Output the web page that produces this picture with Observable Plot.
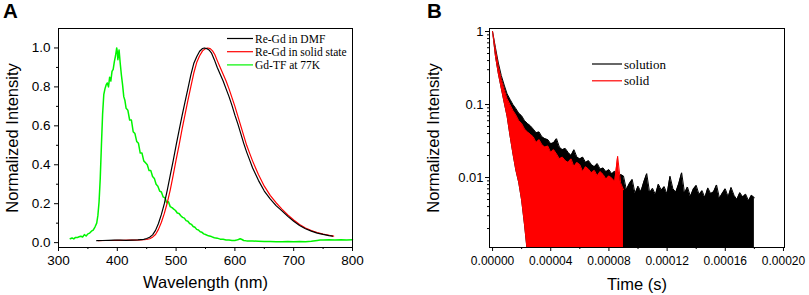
<!DOCTYPE html>
<html><head><meta charset="utf-8">
<script src="https://cdn.jsdelivr.net/npm/d3@7"></script>
<script src="https://cdn.jsdelivr.net/npm/@observablehq/plot@0.6"></script>
<style>
body{margin:0;background:#fff;}
#wrap{position:relative;width:809px;height:295px;overflow:hidden;background:#fff;}
#wrap svg{position:absolute;top:0;}
</style></head><body><div id="wrap"></div>
<script>
// ---------- Panel A: emission spectra ----------
const wavelengthDMF = [365,375,385,395,405,415,425,435,445,450,455,460,465,470,475,480,485,490,495,500,505,510,515,520,525,530,535,540,545,548,552,556,560,565,570,575,580,585,590,595,600,605,610,615,620,625,630,640,650,660,670,680,690,700,710,720,730,740,750,760,766];
const intensityDMF = [0.010,0.011,0.012,0.013,0.013,0.012,0.013,0.014,0.017,0.021,0.028,0.040,0.063,0.098,0.145,0.20,0.27,0.345,0.42,0.50,0.575,0.65,0.72,0.79,0.86,0.92,0.955,0.983,0.997,1.0,0.997,0.99,0.975,0.94,0.90,0.865,0.83,0.79,0.75,0.705,0.655,0.61,0.56,0.51,0.465,0.425,0.385,0.32,0.265,0.225,0.19,0.163,0.135,0.11,0.088,0.071,0.059,0.049,0.042,0.036,0.033];

const wavelengthSolid = [368,380,390,400,410,420,430,440,450,455,460,465,470,475,480,485,490,495,500,505,510,515,520,525,530,535,540,545,550,554,558,562,566,570,575,580,585,590,595,600,605,610,615,620,625,630,635,640,650,660,670,680,690,700,710,720,730,740,750,760,768];
const intensitySolid = [0.010,0.011,0.011,0.012,0.012,0.013,0.013,0.014,0.016,0.020,0.028,0.042,0.068,0.105,0.15,0.205,0.27,0.345,0.425,0.50,0.58,0.655,0.73,0.80,0.87,0.925,0.96,0.985,0.997,1.0,0.997,0.985,0.965,0.935,0.90,0.865,0.83,0.79,0.745,0.70,0.65,0.60,0.55,0.50,0.46,0.42,0.385,0.35,0.29,0.243,0.205,0.172,0.142,0.116,0.093,0.075,0.062,0.052,0.044,0.038,0.033];

const wavelengthGdTF = [320,323,326,329,332,335,338,341,344,347,350,353,356,359,362,365,367,369,371,373,375,377,379,381,383,385,387,389,391,393,395,397,399,400,401,403,405,407,409,411,413,415,418,421,424,427,430,433,436,439,442,445,448,451,454,457,460,463,466,469,472,475,478,481,484,487,490,493,496,499,502,505,508,511,514,517,520,523,526,529,532,535,538,541,544,547,550,555,560,565,570,575,580,585,590,595,600,603,606,609,612,615,620,630,640,650,660,670,680,690,700,710,720,730,740,745,750,760,770,780,790,800];
const intensityGdTF = [0.020,0.024,0.019,0.027,0.026,0.030,0.033,0.029,0.041,0.034,0.045,0.049,0.059,0.064,0.080,0.10,0.14,0.21,0.33,0.50,0.66,0.76,0.79,0.81,0.82,0.80,0.85,0.83,0.88,0.89,0.93,0.96,1.00,0.98,0.94,0.99,0.92,0.86,0.81,0.75,0.73,0.69,0.68,0.63,0.63,0.57,0.56,0.52,0.51,0.46,0.46,0.42,0.41,0.40,0.37,0.37,0.34,0.33,0.30,0.29,0.265,0.26,0.235,0.23,0.205,0.21,0.185,0.18,0.172,0.165,0.152,0.15,0.138,0.13,0.126,0.113,0.11,0.098,0.094,0.083,0.079,0.068,0.065,0.056,0.053,0.045,0.042,0.035,0.031,0.025,0.023,0.018,0.017,0.014,0.013,0.011,0.011,0.013,0.016,0.020,0.016,0.011,0.009,0.008,0.007,0.006,0.006,0.005,0.005,0.006,0.005,0.006,0.005,0.007,0.011,0.013,0.014,0.015,0.014,0.015,0.014,0.015];

const seriesNamesA = ["Re-Gd in DMF", "Re-Gd in solid state", "Gd-TF at 77K"];
const xTicksA = [300, 400, 500, 600, 700, 800];
const xMinorA = [350, 450, 550, 650, 750];
const yTicksA = [0, 0.2, 0.4, 0.6, 0.8, 1.0];
const yMinorA = [0.1, 0.3, 0.5, 0.7, 0.9];
const xLabelA = "Wavelength (nm)";
const yLabel = "Normalized Intensity";

// ---------- Panel B: decay curves (time in microseconds) ----------
const solutionTimeUs = [0,2,4,6,8,10,12,14,16,18,20,22,24,26,28,30,32,34,36,38,40,42,44,46,48,50,52,54,56,58,60,62,64,66,68,70,72,74,76,78,80,82,84,86,88,90,92,94,96,98,100,102,104,106,108,110,112,114,116,118,120,122,124,126,128,130,132,134,136,138,140,142,144,146,148,150,152,154,156,158,160,162,164,166,168,170,172,174,176,178,180];
const solutionTop = [1.0,0.60,0.37,0.25,0.185,0.14,0.118,0.10,0.088,0.076,0.070,
  0.060,0.055,0.051,0.046,0.041,0.042,0.036,0.034,0.033,0.029,0.030,0.034,0.026,0.024,0.025,0.022,0.020,0.024,0.019,0.018,0.019,0.016,0.017,0.015,0.014,0.0155,0.013,0.0135,0.012,0.0128,0.0112,0.0122,0.0098,0.0110,
  0.0105,0.0068,0.0082,0.0094,0.0060,0.0076,0.0064,0.0087,0.0113,0.0062,0.0071,0.0058,0.0081,0.0067,0.0075,0.0059,0.0104,0.0070,0.0063,0.0082,0.0116,0.0061,0.0074,0.0055,0.0069,0.0078,0.0058,0.0066,0.0053,0.0072,0.0060,0.0064,0.0079,0.0052,0.0061,0.0070,0.0054,0.0073,0.0057,0.0050,0.0062,0.0054,0.0059,0.0048,0.0057,0.0053];
const solutionLowEdge = [1.0,0.45,0.26,0.165,0.105,0.068,0.037,0.021,0.0125,0.0084,0.0048,0.0022];

const solidTimeUs = [0,2,4,6,8,10,12,14,16,18,20,22,24,26,28,30,32,34,36,38,40,42,44,46,48,50,52,54,56,58,60,62,64,66,68,70,72,74,76,78,80,82,84,86,88,90];
const solidTop = [1.0,0.56,0.33,0.22,0.16,0.12,0.10,0.083,0.072,0.060,0.055,
  0.046,0.042,0.039,0.036,0.030,0.033,0.028,0.026,0.027,0.022,0.024,0.021,0.018,0.019,0.017,0.016,0.018,0.014,0.016,0.015,0.012,0.014,0.013,0.0115,0.0125,0.0105,0.012,0.011,0.0095,0.0105,0.0098,0.0088,0.0195,0.0085,0.0068];
const solidLowEdge = [1.0,0.45,0.26,0.165,0.105,0.068,0.037,0.021,0.0125,0.0084,0.0048,0.0022];
const noiseFloor = 0.0009; // signal at/below zero: clipped at the axis bottom

const seriesNamesB = ["solution", "solid"];
const xTicksB = [0, 0.00004, 0.00008, 0.00012, 0.00016, 0.0002];
const xMinorB = [0.00002, 0.00006, 0.0001, 0.00014, 0.00018];
const yTicksB = [1, 0.1, 0.01];
const yMinorB = [0.9,0.8,0.7,0.6,0.5,0.4,0.3,0.2,0.09,0.08,0.07,0.06,0.05,0.04,0.03,0.02,0.009,0.008,0.007,0.006,0.005,0.004,0.003,0.002];
const xLabelB = "Time (s)";

// ---------- build ----------
const sans = "'Liberation Sans', Arial, sans-serif";
const serif = "'Liberation Serif', 'Times New Roman', serif";
const greenColor = "#00f400";

const dmf = wavelengthDMF.map((w, i) => ({w, v: intensityDMF[i]}));
const solidSpec = wavelengthSolid.map((w, i) => ({w, v: intensitySolid[i]}));
const gdtf = wavelengthGdTF.map((w, i) => ({w, v: intensityGdTF[i]}));

const chartA = Plot.plot({
  width: 400, height: 295,
  marginLeft: 58, marginRight: 48, marginTop: 28, marginBottom: 48,
  style: {fontFamily: sans, fontSize: "13.5px", color: "#000", background: "transparent", overflow: "visible"},
  x: {domain: [300, 800]},
  y: {domain: [-0.025, 1.1]},
  marks: [
    Plot.line(gdtf, {x: "w", y: "v", stroke: greenColor, strokeWidth: 1.5}),
    Plot.line(solidSpec, {x: "w", y: "v", stroke: "#f00", strokeWidth: 1.2}),
    Plot.line(dmf, {x: "w", y: "v", stroke: "#000", strokeWidth: 1.2}),
    Plot.frame({stroke: "#000", strokeWidth: 1}),
    Plot.axisX({ticks: xTicksA, tickSize: 4, tickPadding: 4, tickFormat: d => String(d), label: null}),
    Plot.axisX({ticks: xMinorA, tickSize: 2, tickFormat: () => "", label: null}),
    Plot.axisY({ticks: yTicksA, tickSize: 4, tickPadding: 4, tickFormat: d3.format(".1f"), label: null}),
    Plot.axisY({ticks: yMinorA, tickSize: 2, tickFormat: () => "", label: null}),
    Plot.text([xLabelA], {text: d => d, frameAnchor: "bottom", lineAnchor: "middle", dy: 35, fontSize: 16.5}),
    Plot.text([yLabel], {text: d => d, frameAnchor: "left", textAnchor: "middle", lineAnchor: "middle", dx: -46, rotate: -90, fontSize: 16.5})
  ]
});

const solution = solutionTimeUs.map((t, i) => ({t: t * 1e-6, top: solutionTop[i], low: i < solutionLowEdge.length ? solutionLowEdge[i] : noiseFloor}));
const solidDecay = solidTimeUs.map((t, i) => ({t: t * 1e-6, top: solidTop[i], low: i < solidLowEdge.length ? solidLowEdge[i] : noiseFloor}));

const chartB = Plot.plot({
  width: 409, height: 295,
  marginLeft: 89, marginRight: 25, marginTop: 28, marginBottom: 48,
  style: {fontFamily: sans, fontSize: "13px", color: "#000", background: "transparent", overflow: "visible"},
  x: {domain: [-0.0000021, 0.0002007]},
  y: {type: "log", domain: [0.0011, 1.1]},
  marks: [
    Plot.areaY(solution, {x: "t", y1: "low", y2: "top", fill: "#000", clip: true}),
    Plot.line(solution, {x: "t", y: "top", stroke: "#000", strokeWidth: 1, clip: true}),
    Plot.areaY(solidDecay, {x: "t", y1: "low", y2: "top", fill: "#f00", clip: true}),
    Plot.line(solidDecay, {x: "t", y: "top", stroke: "#f00", strokeWidth: 1, clip: true}),
    Plot.frame({stroke: "#000", strokeWidth: 1}),
    Plot.axisX({ticks: xTicksB, tickSize: 4, tickPadding: 5, tickFormat: d3.format(".5f"), fontSize: 12, label: null}),
    Plot.axisX({ticks: xMinorB, tickSize: 2, tickFormat: () => "", label: null}),
    Plot.axisY({ticks: yTicksB, tickSize: 4, tickPadding: 2, tickFormat: d => String(d), label: null}),
    Plot.axisY({ticks: yMinorB, tickSize: 2, tickFormat: () => "", label: null}),
    Plot.text([xLabelB], {text: d => d, frameAnchor: "bottom", lineAnchor: "middle", dy: 37, fontSize: 16.5}),
    Plot.text([yLabel], {text: d => d, frameAnchor: "left", textAnchor: "middle", lineAnchor: "middle", dx: -56, rotate: -90, fontSize: 16.5})
  ]
});

const wrap = document.getElementById("wrap");
chartA.style.left = "0px";
chartB.style.left = "400px";
wrap.appendChild(chartA);
wrap.appendChild(chartB);

// legends and panel letters
const legendColorsA = ["#000", "#f00", greenColor];
const gA = d3.select(chartA).append("g").attr("font-family", serif).attr("font-size", 11.5).attr("fill", "#000").attr("text-anchor", "start");
seriesNamesA.forEach((name, i) => {
  const y = 38.5 + i * 13.2;
  gA.append("line").attr("x1", 227).attr("x2", 253).attr("y1", y).attr("y2", y).attr("stroke", legendColorsA[i]).attr("stroke-width", 1.2);
  gA.append("text").attr("x", 255).attr("y", y).attr("dy", "0.35em").text(name);
});
const legendColorsB = ["#000", "#f00"];
const gB = d3.select(chartB).append("g").attr("font-family", serif).attr("font-size", 13).attr("fill", "#000").attr("text-anchor", "start");
seriesNamesB.forEach((name, i) => {
  const y = 64 + i * 16.8;
  gB.append("line").attr("x1", 192).attr("x2", 222).attr("y1", y).attr("y2", y).attr("stroke", legendColorsB[i]).attr("stroke-width", 1.2);
  gB.append("text").attr("x", 224).attr("y", y).attr("dy", "0.35em").text(name);
});
d3.select(chartA).append("text").attr("x", 3).attr("y", 18).attr("text-anchor", "start").attr("font-family", sans).attr("font-weight", "bold").attr("font-size", 20.5).attr("fill", "#000").text("A");
d3.select(chartB).append("text").attr("x", 27).attr("y", 18).attr("text-anchor", "start").attr("font-family", sans).attr("font-weight", "bold").attr("font-size", 20.5).attr("fill", "#000").text("B");
</script></body></html>
